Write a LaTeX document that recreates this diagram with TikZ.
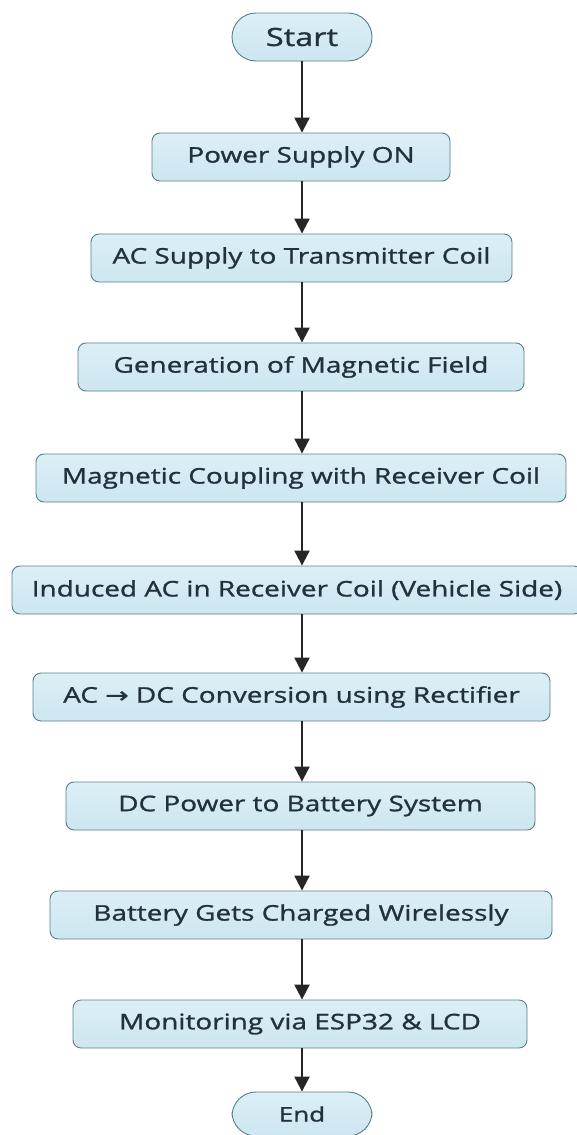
\documentclass[tikz,border=0pt]{standalone}
\usepackage{fontspec}
\setmainfont{Open Sans}[FakeStretch=1.3,FakeBold=1.2]
\newfontfamily\arrowfont{DejaVu Sans}[Scale=1.0,FakeStretch=1.3,FakeBold=1.2]
\usetikzlibrary{arrows.meta}
\definecolor{boxfill}{HTML}{CDE6F0}
\definecolor{boxfilltop}{HTML}{DCEFF6}
\definecolor{boxdraw}{HTML}{5A7E8C}
\definecolor{txt}{HTML}{22323C}
\definecolor{arr}{HTML}{262626}
\begin{document}
\begin{tikzpicture}[x=1pt,y=-1pt,
  stepbox/.style={draw=boxdraw,line width=0.9pt,rounded corners=8pt,
    top color=boxfilltop,bottom color=boxfill,text=txt,
    font=\fontsize{21.5}{24}\selectfont,minimum height=48pt,inner sep=0pt},
  term/.style={stepbox,rounded corners=24pt,minimum height=48pt,minimum width=140pt},
  flow/.style={draw=arr,line width=2.2pt,-{Triangle[width=15pt,length=15pt]}}]
\useasboundingbox (0,0) rectangle (577,1135);
\fill[white] (0,0) rectangle (577,1135);
\node[term,font=\fontsize{25}{28}\selectfont] (start) at (302,37) {Start};
\node[stepbox,minimum width=298pt] (n1) at (301,157) {Power Supply ON};
\node[stepbox,minimum width=421pt] (n2) at (301.5,258) {AC Supply to Transmitter Coil};
\node[stepbox,minimum width=446pt] (n3) at (301,367) {Generation of Magnetic Field};
\node[stepbox,minimum width=530pt] (n4) at (301,478) {Magnetic Coupling with Receiver Coil};
\node[stepbox,minimum width=570pt] (n5) at (297,590) {Induced AC in Receiver Coil (Vehicle Side)};
\node[stepbox,minimum width=517pt] (n6) at (291.5,697) {AC {\arrowfont →} DC Conversion using Rectifier};
\node[stepbox,minimum width=469pt] (n7) at (300.5,806) {DC Power to Battery System};
\node[stepbox,minimum width=502pt] (n8) at (301,915) {Battery Gets Charged Wirelessly};
\node[stepbox,minimum width=454pt] (n9) at (300,1024) {Monitoring via ESP32 \& LCD};
\node[term,minimum height=44pt,font=\fontsize{20}{23}\selectfont] (end) at (302,1114) {End};
\foreach \a/\b in {start/n1,n1/n2,n2/n3,n3/n4,n4/n5,n5/n6,n6/n7,n7/n8,n8/n9,n9/end}
  \draw[flow] (\a.south -| start) -- (\b.north -| start);
\end{tikzpicture}
\end{document}
